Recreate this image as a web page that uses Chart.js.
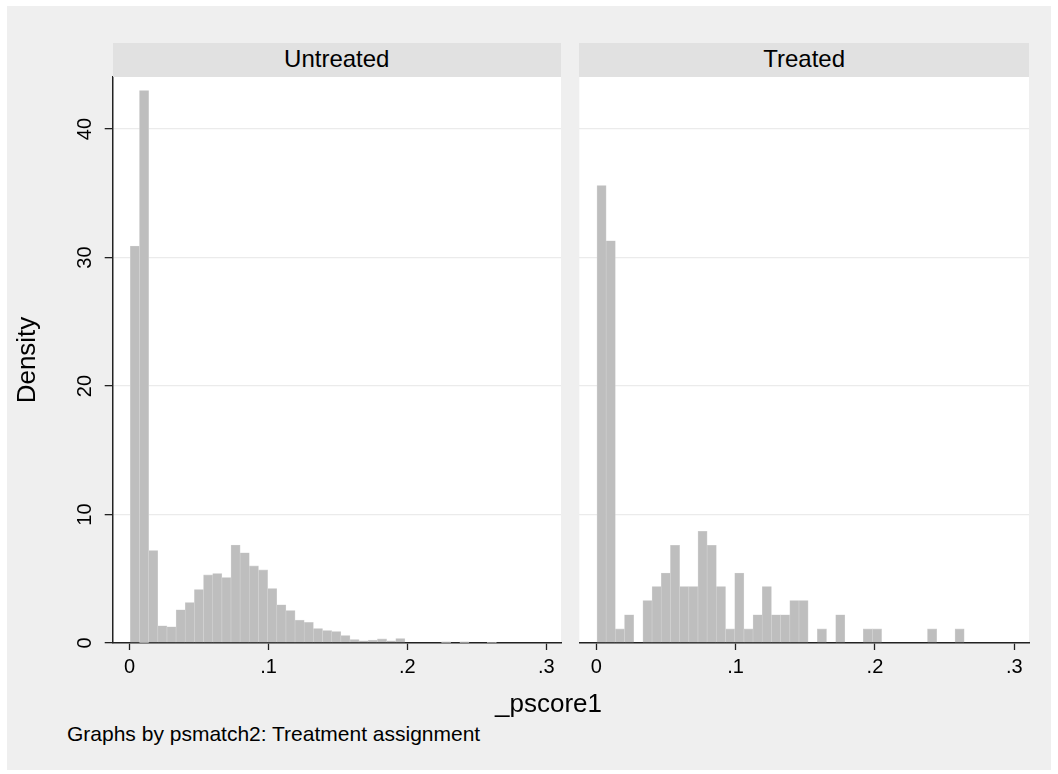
<!DOCTYPE html>
<html>
<head>
<meta charset="utf-8">
<script src="https://cdn.jsdelivr.net/npm/chart.js@4/dist/chart.umd.min.js"></script>
<style>
  body { margin: 0; background: #fff; font-family: "Liberation Sans", Arial, Helvetica, sans-serif; }
  #frame { position: absolute; left: 7px; top: 6px; width: 1044px; height: 764px; background: #efefef; }
  canvas { position: absolute; top: 0; }
  .strip { position: absolute; top: 43px; height: 34px; line-height: 31px; background: #e1e1e1;
           text-align: center; font-size: 24px; color: #000; }
  .label { position: absolute; white-space: nowrap; color: #000; line-height: 1; }
</style>
</head>
<body>
<div id="frame"></div>
<canvas id="left" width="570" height="700" style="left:0"></canvas>
<canvas id="right" width="488" height="700" style="left:570px"></canvas>
<div class="strip" id="strip0" style="left:112.5px; width:448.5px"></div>
<div class="strip" id="strip1" style="left:579.3px; width:449.7px"></div>
<div class="label" id="xtitle" style="left:495px; top:690px; font-size:26px"></div>
<div class="label" id="note" style="left:67px; top:723px; font-size:21px"></div>

<script>
// histogram bins: start and width of each bin on _pscore1
const binStart = 0.0005;
const binWidth = 0.00659;

// density per bin
const untreated = [30.9, 43.0, 7.2, 1.34, 1.26, 2.58, 3.15, 4.16, 5.30, 5.41,
                   5.10, 7.62, 7.02, 6.0, 5.69, 4.24, 2.97, 2.53, 1.78, 1.60,
                   1.13, 0.97, 0.89, 0.58, 0.27, 0.17, 0.22, 0.32, 0.17, 0.35,
                   0, 0, 0, 0, 0.1, 0, 0.1, 0, 0, 0.06];
const treated = [35.6, 31.3, 1.1, 2.2, 0, 3.3, 4.4, 5.45, 7.6, 4.4,
                 4.4, 8.7, 7.6, 4.4, 1.1, 5.45, 1.1, 2.2, 4.4, 2.2,
                 2.2, 3.3, 3.3, 0, 1.1, 0, 2.2, 0, 0, 1.1,
                 1.1, 0, 0, 0, 0, 0, 1.1, 0, 0, 1.1];

const panelNames = ['Untreated', 'Treated'];
const xTicks = [0, 0.1, 0.2, 0.3];
const xTickLabels = ['0', '.1', '.2', '.3'];
const yTicks = [0, 10, 20, 30, 40];
const xTitle = '_pscore1';
const yTitle = 'Density';
const note = 'Graphs by psmatch2: Treatment assignment';

const FONT = '"Liberation Sans", Arial, Helvetica, sans-serif';
const axisColor = '#222';
const gridColor = '#ebebeb';

document.getElementById('strip0').textContent = panelNames[0];
document.getElementById('strip1').textContent = panelNames[1];
document.getElementById('xtitle').textContent = xTitle;
document.getElementById('note').textContent = note;

// white plot region behind the bars
const plotBg = {
  id: 'plotBg',
  beforeDraw(chart) {
    const { ctx, chartArea: a } = chart;
    ctx.save();
    ctx.fillStyle = '#fff';
    ctx.fillRect(a.left, a.top, a.right - a.left, a.bottom - a.top);
    ctx.restore();
  }
};

// y tick labels standing on their side, like Stata draws them
const sideYTicks = {
  id: 'sideYTicks',
  afterDraw(chart) {
    const { ctx, chartArea } = chart;
    const s = chart.scales.y;
    ctx.save();
    ctx.font = '20px ' + FONT;
    ctx.fillStyle = '#000';
    ctx.textAlign = 'center';
    ctx.textBaseline = 'alphabetic';
    yTicks.forEach(v => {
      ctx.save();
      ctx.translate(chartArea.left - 21.5, s.getPixelForValue(v));
      ctx.rotate(-Math.PI / 2);
      ctx.fillText(String(v), 0, 0);
      ctx.restore();
    });
    ctx.restore();
  }
};

function histPoints(values) {
  return values.map((d, k) => ({ x: binStart + (k + 0.5) * binWidth, y: d }));
}

function makePanel(canvasId, values, withYAxis, pad) {
  const plugins = [plotBg];
  if (withYAxis) plugins.push(sideYTicks);
  return new Chart(document.getElementById(canvasId), {
    type: 'bar',
    data: {
      datasets: [{
        data: histPoints(values),
        backgroundColor: '#bebebe',
        borderColor: '#d3d3d3',
        borderWidth: 0.6,
        borderSkipped: 'start',
        categoryPercentage: 1,
        barPercentage: 1
      }]
    },
    options: {
      responsive: false,
      animation: false,
      devicePixelRatio: 1,
      layout: { padding: pad },
      plugins: { legend: { display: false }, tooltip: { enabled: false } },
      scales: {
        x: {
          type: 'linear',
          min: -0.0122,
          max: 0.3106,
          offset: false,
          afterBuildTicks: s => { s.ticks = xTicks.map(v => ({ value: v })); },
          afterFit: s => { s.height = 57; },
          ticks: {
            font: { size: 20, family: FONT },
            color: '#000',
            padding: 5,
            maxRotation: 0,
            callback: (v) => xTickLabels[xTicks.indexOf(v)]
          },
          grid: {
            offset: false,
            drawOnChartArea: false,
            drawTicks: true,
            tickLength: 7,
            tickColor: axisColor,
            tickWidth: 1.3
          },
          border: { display: true, color: axisColor, width: 1.5 }
        },
        y: {
          min: 0,
          max: 44.05,
          afterBuildTicks: s => { s.ticks = yTicks.map(v => ({ value: v })); },
          afterFit: s => { s.width = withYAxis ? 112.7 : 0; },
          ticks: { display: false },
          title: {
            display: withYAxis,
            text: yTitle,
            font: { size: 26, family: FONT },
            color: '#000',
            padding: { top: 12, bottom: 0 }
          },
          grid: {
            color: gridColor,
            lineWidth: 1.3,
            drawTicks: withYAxis,
            tickLength: 8,
            tickColor: axisColor,
            tickWidth: 1.3
          },
          border: { display: withYAxis, color: axisColor, width: 1.5 }
        }
      }
    },
    plugins: plugins
  });
}

makePanel('left', untreated, true, { left: 0, right: 9, top: 77, bottom: 0 });
makePanel('right', treated, false, { left: 9.3, right: 29, top: 77, bottom: 0 });
</script>
</body>
</html>
